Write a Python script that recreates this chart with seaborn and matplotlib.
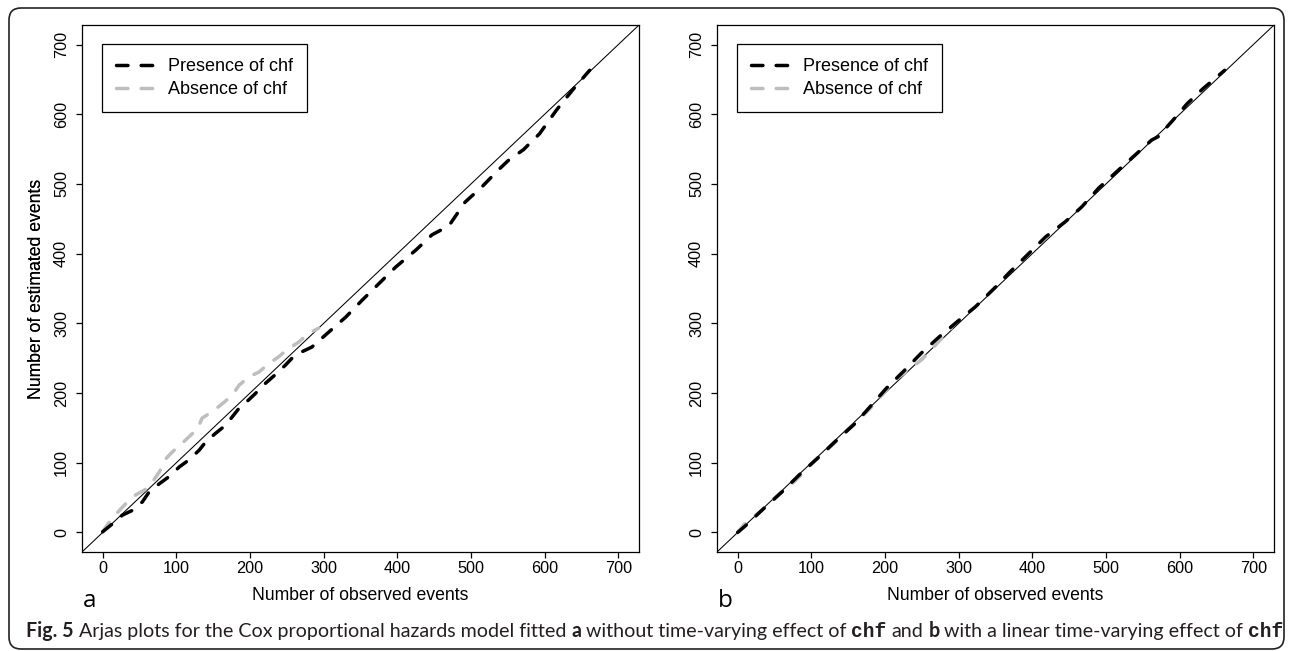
import matplotlib
matplotlib.use("Agg")
import matplotlib.pyplot as plt
import seaborn as sns
import pandas as pd
from matplotlib.patches import FancyBboxPatch
from matplotlib.transforms import IdentityTransform
from matplotlib.lines import Line2D
from matplotlib import font_manager

# ---------------- data ----------------
a_presence_obs = [0, 14, 27, 41, 54, 63, 77, 90, 104, 117, 131, 140, 153, 167, 176, 185, 198, 207,
                  221, 234, 248, 257, 270, 284, 300, 330, 352, 375, 398, 425, 447, 470, 492, 515,
                  537, 551, 571, 593, 616, 638, 661]
a_presence_est = [1, 13, 25, 32, 44, 58, 70, 80, 94, 104, 118, 130, 142, 154, 166, 178, 190, 199,
                  214, 226, 240, 250, 259, 266, 281, 309, 333, 357, 381, 405, 427, 440, 474, 496,
                  520, 534, 549, 572, 606, 635, 663]
a_absence_obs = [0, 9, 23, 32, 45, 57, 66, 77, 86, 95, 108, 117, 129, 135, 151, 165, 176, 185,
                 198, 212, 225, 239, 250, 266, 279, 293]
a_absence_est = [1, 15, 32, 42, 54, 61, 70, 87, 106, 116, 128, 137, 149, 164, 175, 187, 197, 211,
                 223, 230, 242, 252, 262, 273, 285, 293]

b_presence_obs = [0, 11, 35, 60, 85, 110, 134, 159, 182, 202, 225, 249, 274, 301, 323, 350, 368,
                  395, 418, 445, 467, 490, 517, 539, 562, 571, 593, 610, 632, 661]
b_presence_est = [0, 10, 34, 58, 84, 108, 132, 156, 183, 207, 231, 257, 281, 305, 324, 352, 372,
                  400, 424, 446, 467, 494, 520, 541, 563, 568, 594, 615, 637, 663]
b_absence_obs = [0, 9, 31, 55, 78, 100, 123, 150, 180, 213, 250, 290]
b_absence_est = [0, 12, 30, 54, 74, 98, 120, 147, 178, 218, 248, 293]

ticks = [0, 100, 200, 300, 400, 500, 600, 700]
legend_labels = ["Presence of chf", "Absence of chf"]
panel_labels = ["a", "b"]
xlabel = "Number of observed events"
ylabel = "Number of estimated events"

# ---------------- style ----------------
sns.set_theme(style="ticks")
plt.rcParams["font.family"] = ["Liberation Sans", "DejaVu Sans"]

W, H = 1292, 651
fig = plt.figure(figsize=(W / 100, H / 100), dpi=100)
fig.patch.set_facecolor("white")

BLACK = "#000000"
GREY = "#BEBEBE"
FS_TICK = 11.7
FS_LAB = 12.7
FS_LEG = 13.0

def px_ax(left, top, right, bottom):
    return [left / W, 1 - bottom / H, (right - left) / W, (bottom - top) / H]

axes_px = [(82, 25, 639, 552), (717, 25, 1274, 552)]
datasets = [
    (a_presence_obs, a_presence_est, a_absence_obs, a_absence_est),
    (b_presence_obs, b_presence_est, b_absence_obs, b_absence_est),
]

for i, (box, data) in enumerate(zip(axes_px, datasets)):
    ax = fig.add_axes(px_ax(*box))
    ax.set_facecolor("white")
    po, pe, ao, ae = data
    df_p = pd.DataFrame({"obs": po, "est": pe})
    df_a = pd.DataFrame({"obs": ao, "est": ae})
    ax.axline((0, 0), slope=1, color=BLACK, lw=0.75, zorder=1)
    sns.lineplot(data=df_a, x="obs", y="est", ax=ax, color=GREY, lw=2.5, sort=False,
                 estimator=None, zorder=2)
    sns.lineplot(data=df_p, x="obs", y="est", ax=ax, color=BLACK, lw=2.5, sort=False,
                 estimator=None, zorder=3)
    for ln in ax.get_lines()[1:]:
        ln.set_dashes((3.3, 3.8))
        ln.set_dash_capstyle("round")
        ln.set_solid_joinstyle("round")
    ax.set_xlim(-28, 728)
    ax.set_ylim(-28, 728)
    ax.set_xticks(ticks)
    ax.set_yticks(ticks)
    ax.set_xticklabels([str(t) for t in ticks])
    ax.set_yticklabels([str(t) for t in ticks])
    for sp in ax.spines.values():
        sp.set_visible(True)
        sp.set_color(BLACK)
        sp.set_linewidth(0.9)
    ax.tick_params(axis="both", direction="out", length=4.3, width=0.9, color=BLACK,
                   labelsize=FS_TICK, labelcolor=BLACK)
    ax.tick_params(axis="x", pad=2.5)
    ax.tick_params(axis="y", pad=5.0, labelrotation=90)
    for lab in ax.get_yticklabels():
        lab.set_va("center")
    ax.set_xlabel(xlabel, fontsize=FS_LAB, color=BLACK)
    ax.set_ylabel(ylabel, fontsize=FS_LAB, color=BLACK)
    aw = box[2] - box[0]
    ah = box[3] - box[1]
    ax.xaxis.set_label_coords(0.5, (box[3] - 596) / ah)
    ax.xaxis.label.set_va("center")
    ax.yaxis.set_label_coords((37 - box[0]) / aw, (box[3] - 289) / ah)
    ax.yaxis.label.set_va("center")

    handles = [Line2D([], [], color=BLACK, lw=2.5, dashes=(3.3, 3.8), dash_capstyle="round"),
               Line2D([], [], color=GREY, lw=2.5, dashes=(3.3, 3.8), dash_capstyle="round")]
    leg = ax.legend(handles, legend_labels, loc="upper left",
                    bbox_to_anchor=(20 / aw, 1 - 19 / ah), borderaxespad=0,
                    frameon=True, fancybox=False, edgecolor=BLACK, framealpha=1,
                    fontsize=FS_LEG, handlelength=2.05, handletextpad=0.78,
                    borderpad=0.8, labelspacing=0.31)
    leg.get_frame().set_linewidth(0.9)
    for t in leg.get_texts():
        t.set_color(BLACK)

    fig.text((box[0] + 1) / W, 1 - 607 / H, panel_labels[i], fontsize=17.5,
             family=["Open Sans", "DejaVu Sans"], color=BLACK, ha="left", va="baseline")

# ---------------- caption ----------------
avail = {f.name for f in font_manager.fontManager.ttflist}
cap_family = "Liberation Sans Narrow" if "Liberation Sans Narrow" in avail else "Lato"
mono_family = "Liberation Mono" if "Liberation Mono" in avail else "DejaVu Sans Mono"

pieces = [
    ("Fig. 5", "bold", cap_family),
    ("Arjas plots for the Cox proportional hazards model fitted", "normal", cap_family),
    ("a", "bold", cap_family),
    ("without time-varying effect of", "normal", cap_family),
    ("chf", "bold", mono_family),
    ("and", "normal", cap_family),
    ("b", "bold", cap_family),
    ("with a linear time-varying effect of", "normal", cap_family),
    ("chf", "bold", mono_family),
]

fig.canvas.draw()
renderer = fig.canvas.get_renderer()

def layout(size, x0, y0, keep):
    texts = []
    t1 = fig.text(0, 0, "a a", fontsize=size, family=cap_family)
    t2 = fig.text(0, 0, "aa", fontsize=size, family=cap_family)
    sp = t1.get_window_extent(renderer).width - t2.get_window_extent(renderer).width
    t1.remove(); t2.remove()
    x = x0
    for s, wgt, fam in pieces:
        t = fig.text(x / W, y0 / H, s, fontsize=size, fontweight=wgt, family=fam,
                     color="#231f20", ha="left", va="baseline")
        w = t.get_window_extent(renderer).width
        texts.append(t)
        x += w + sp
    total = x - sp - x0
    if not keep:
        for t in texts:
            t.remove()
    return total

x0 = 26
base = 11.0
tw = layout(base, x0, 651 - 637, keep=False)
size = base * (1250 / tw)
layout(size, x0, 651 - 637, keep=True)

# ---------------- outer rounded frame ----------------
frame = FancyBboxPatch((9, 2), 1275, 641, boxstyle="round,pad=0,rounding_size=12",
                       transform=IdentityTransform(), fill=False, lw=1.2, ec="#222222")
fig.add_artist(frame)

fig.savefig("out.png", dpi=100, facecolor="white")
